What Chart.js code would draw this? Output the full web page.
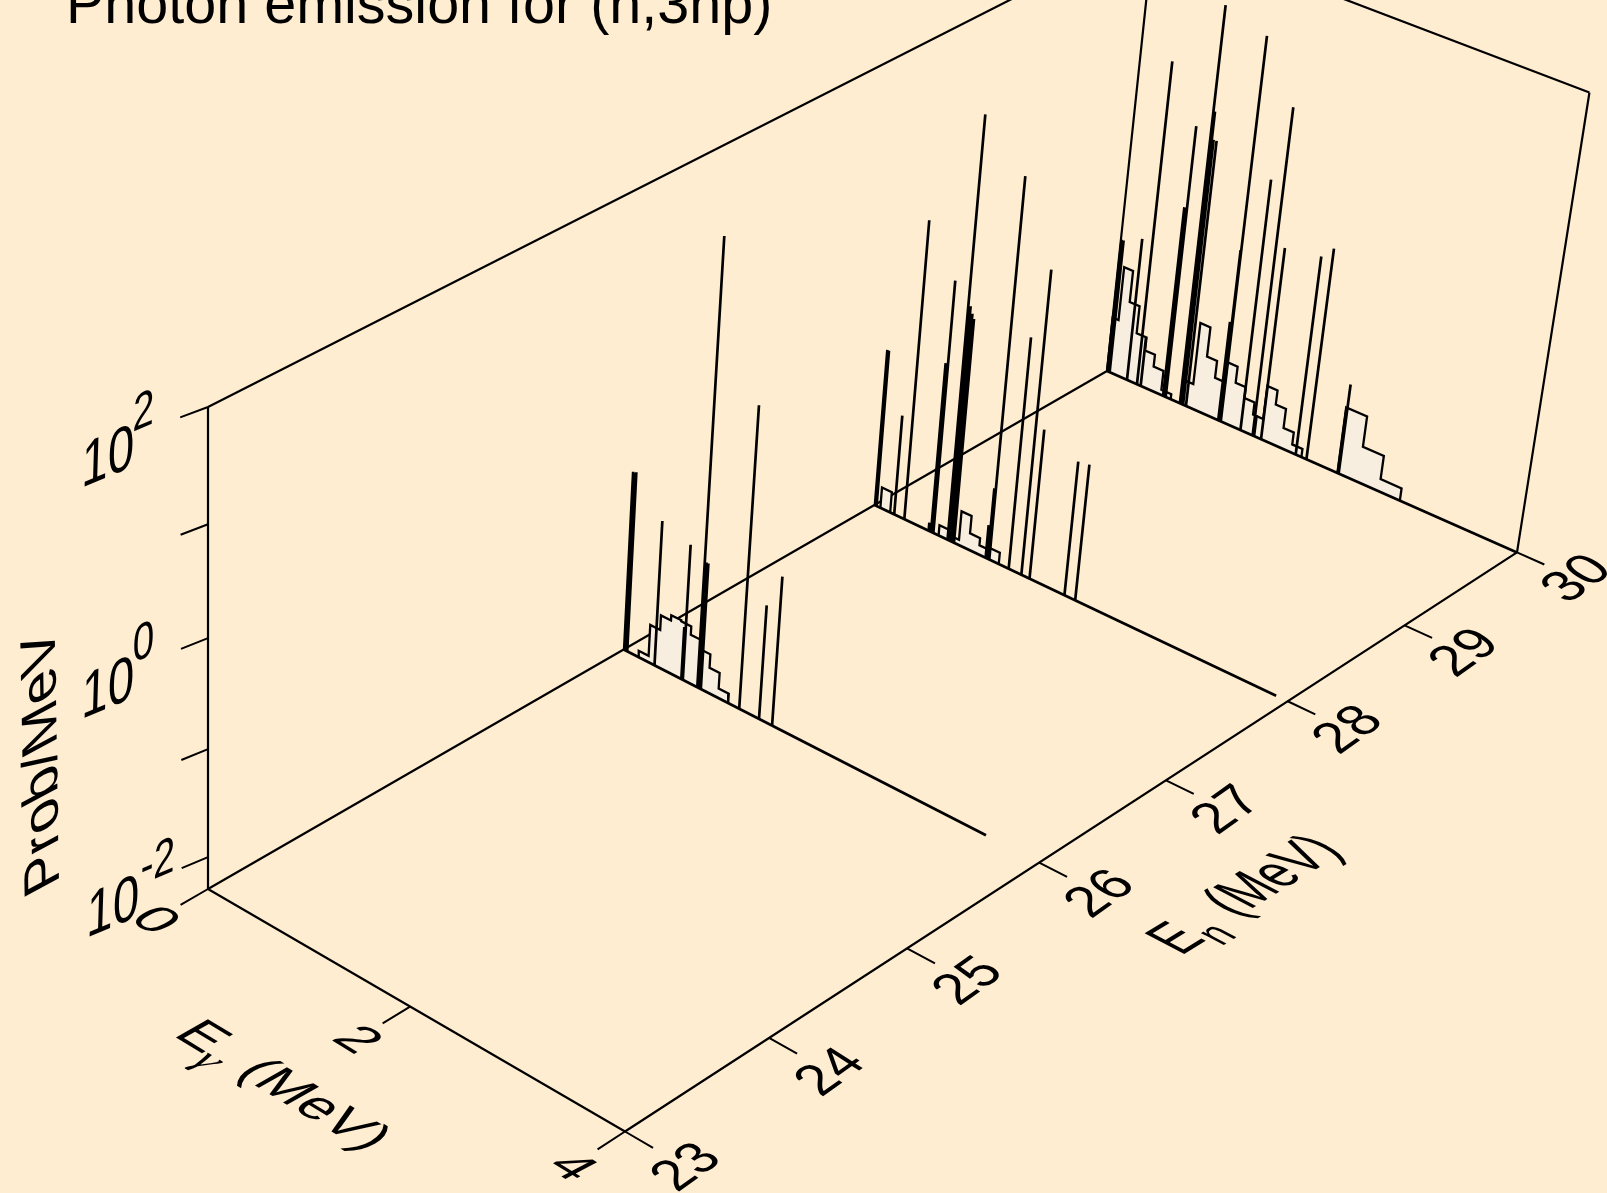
<!DOCTYPE html>
<html><head><meta charset="utf-8"><title>Photon emission for (n,3np)</title>
<style>html,body{margin:0;padding:0;background:#ffedd2;overflow:hidden}canvas{display:block}</style>
<script src="https://cdn.jsdelivr.net/npm/chart.js@4"></script></head><body>
<canvas id="c" width="1607" height="1193" style="width:1607px;height:1193px"></canvas>
<script>
// ---- data ----
const titleText = "Photon emission for (n,3np)";
const enTicks = [23,24,25,26,27,28,29,30];
const egTicks = [0,2,4];
const logTicks = [-2,-1,0,1,2];
const logLabels = [-2,0,2];
const egRange = [0,4];
const enRange = [23,30];
const logRange = [-2.301,2];

const series3En = 30, series2En = 28, series1En = 26;
const series3End = 4.0, series2End = 3.894, series1End = 3.513;

const lines3E = [0.007,0.027,0.205,0.307,0.345,0.573,0.599,0.743,0.750,0.758,0.775,0.804,1.128,1.147,1.153,1.349,1.470,1.484,1.553,1.894,1.999,2.304,2.312];
const lines3P = [-0.98,-0.98,-0.89,0.86,-1.81,-0.43,0.36,1.55,0.56,0.56,0.30,0.30,-1.32,-0.61,1.42,0.15,0.88,-2.09,-0.42,-0.36,-0.24,-1.65,-1.42];
const lines2E = [0.005,0.021,0.201,0.304,0.550,0.574,0.597,0.740,0.762,0.785,0.804,1.120,1.141,1.156,1.348,1.473,1.553,1.894,1.998];
const lines2P = [-0.78,-0.78,-1.33,0.57,-2.22,-0.66,0.13,1.71,-0.04,-0.10,-0.14,-1.98,-1.61,1.32,-0.08,0.60,-0.86,-1.01,-0.99];
const lines1E = [0.005,0.022,0.036,0.313,0.583,0.598,0.743,0.760,0.778,1.159,1.354,1.482];
const lines1P = [-0.60,-0.60,-0.59,-0.92,-1.80,-1.01,1.85,-1.10,-1.10,0.53,-1.22,-0.89];

const hist3aEdges = [0.0,0.06,0.15,0.25,0.35,0.45,0.55,0.65];
const hist3aVals  = [-1.76,-1.23,-1.54,-1.81,-1.94,-2.06,-2.25];
const hist3bEdges = [0.75,0.85,0.95,1.05,1.15,1.25,1.35,1.45,1.55,1.65,1.75,1.85,1.95];
const hist3bVals  = [-2.06,-1.45,-1.74,-1.91,-1.71,-1.87,-1.98,-2.10,-1.77,-1.91,-2.10,-2.22];
const hist3cEdges = [2.3,2.5,2.7,2.9];
const hist3cVals  = [-1.65,-1.95,-2.18];
const hist2aEdges = [0.06,0.16];
const hist2aVals  = [-2.10];
const hist2bEdges = [0.65,0.75,0.85,0.95,1.05,1.15,1.25];
const hist2bVals  = [-2.20,-2.25,-1.97,-2.14,-2.21,-2.19];
const hist1Edges  = [0.15,0.25,0.35,0.45,0.55,0.65,0.75,0.85,0.95,1.05];
const hist1Vals   = [-2.24,-1.94,-1.80,-1.75,-1.76,-1.84,-1.93,-2.06,-2.21];

// ---- perspective projection of the box on the page ----
const cO=[208,889], cB=[625,1131.5], cD=[1107,371], cA=[208,407];
const g1=-0.05957, g2=0.14667, g3=-0.057;
const a1=[cB[0]*(1+g1)-cO[0],cB[1]*(1+g1)-cO[1]];
const a2=[cD[0]*(1+g2)-cO[0],cD[1]*(1+g2)-cO[1]];
const a3=[cA[0]*(1+g3)-cO[0],cA[1]*(1+g3)-cO[1]];
function projUVW(u,v,w){
  const d=1+g1*u+g2*v+g3*w;
  return {x:(cO[0]+a1[0]*u+a2[0]*v+a3[0]*w)/d, y:(cO[1]+a1[1]*u+a2[1]*v+a3[1]*w)/d};
}
const U=e=>(e-egRange[0])/(egRange[1]-egRange[0]);
const V=e=>(e-enRange[0])/(enRange[1]-enRange[0]);
const W=l=>(l-logRange[0])/(logRange[1]-logRange[0]);
const proj=(eg,en,lg)=>projUVW(U(eg),V(en),W(lg));
const GAP={x:NaN,y:NaN};
const zMin=logRange[0], zMax=logRange[1];

function spikes(es,ps,en){const o=[];es.forEach((e,i)=>{o.push(proj(e,en,zMin),proj(e,en,ps[i]),GAP);});return o;}
function hump(edges,vals,en){const o=[proj(edges[0],en,zMin)];vals.forEach((p,i)=>{o.push(proj(edges[i],en,p),proj(edges[i+1],en,p));});o.push(proj(edges[edges.length-1],en,zMin));return o;}
function seg(list){const o=[];list.forEach(s=>{o.push(s[0],s[1],GAP);});return o;}

const frameSegs=seg([
 [proj(0,23,zMin),proj(4,23,zMin)],
 [proj(4,23,zMin),proj(4,30,zMin)],
 [proj(4,30,zMin),proj(4,30,zMax)],
 [proj(4,30,zMax),proj(0,30,zMax)],
 [proj(0,30,zMax),proj(0,23,zMax)],
 [proj(0,23,zMax),proj(0,23,zMin)],
 [proj(0,23,zMin),proj(0,30,zMin)],
 [proj(0,30,zMin),proj(0,30,zMax)]
]);
const tickSegs=seg([
 ...enTicks.map(t=>[projUVW(1,V(t),0),projUVW(1.063,V(t),0)]),
 ...egTicks.map(t=>[projUVW(U(t),0,0),projUVW(U(t),-0.0265,0)]),
 ...logTicks.map(t=>[projUVW(0,0,W(t)),projUVW(-0.0088,-0.022,W(t))])
]);
const lineDs=(data,w,order,extra)=>Object.assign({data,showLine:true,borderColor:'#000',backgroundColor:'#000',borderWidth:w,pointRadius:0,pointHoverRadius:0,spanGaps:false,tension:0,fill:false,order,borderJoinStyle:'miter'},extra||{});
const histDs=(data,order)=>lineDs(data,2.3,order,{fill:'shape',backgroundColor:'#f8eee0'});

const datasets=[
 lineDs(frameSegs,2.2,100),
 lineDs(tickSegs,2,99),
 histDs(hump(hist3aEdges,hist3aVals,series3En),90),
 histDs(hump(hist3bEdges,hist3bVals,series3En),90),
 histDs(hump(hist3cEdges,hist3cVals,series3En),90),
 lineDs(spikes(lines3E,lines3P,series3En),2.7,80),
 lineDs([proj(0,series3En,zMin),proj(series3End,series3En,zMin)],2.7,79),
 histDs(hump(hist2aEdges,hist2aVals,series2En),70),
 histDs(hump(hist2bEdges,hist2bVals,series2En),70),
 lineDs(spikes(lines2E,lines2P,series2En),2.7,60),
 lineDs([proj(0,series2En,zMin),proj(series2End,series2En,zMin)],2.7,59),
 histDs(hump(hist1Edges,hist1Vals,series1En),50),
 lineDs(spikes(lines1E,lines1P,series1En),2.7,40),
 lineDs([proj(0,series1En,zMin),proj(series1End,series1En,zMin)],2.7,39)
];

const FONT='"Liberation Sans",Arial,sans-serif';
function put(ctx,m,x,y,fn){ctx.save();ctx.transform(m[0],m[1],m[2],m[3],x,y);fn();ctx.restore();}
const textPlugin={id:'text3d',
 beforeDraw(ch){const c=ch.ctx;c.save();c.fillStyle='#ffedd2';c.fillRect(0,0,ch.width,ch.height);c.restore();},
 afterDraw(ch){
  const c=ch.ctx;c.save();c.fillStyle='#000';c.textBaseline='alphabetic';c.textAlign='left';
  c.font='57.5px '+FONT;c.fillText(titleText,66,23);
  // height axis
  const mz=[0.74,-0.31,-0.03,1];
  logLabels.forEach(l=>{const p=projUVW(0,0,W(l));
    const neg=l<0;
    put(c,mz,p.x-(neg?122:127),p.y+81,()=>{c.font='64px '+FONT;c.fillText('10',0,0);c.font='52px '+FONT;c.fillText(String(l),neg?72:68,neg?-31:-35);});});
  put(c,[-0.015,-0.91,0.778,-0.42],59,883,()=>{c.font='64px '+FONT;c.fillText('Prob/MeV',0,0);});
  // E gamma axis
  c.textAlign='center';c.textBaseline='middle';
  const mg=[0.75,0.46,-0.72,0.38];
  egTicks.forEach(t=>{const p=projUVW(U(t),-0.055,0);put(c,mg,p.x+3,p.y-1,()=>{c.font='64px '+FONT;c.fillText(String(t),0,0);});});
  const me=[0.75,0.455,-0.727,0.414];
  c.textAlign='left';c.textBaseline='alphabetic';
  put(c,me,172,1035,()=>{c.font='64px '+FONT;c.fillText('E',0,0);
    c.font='italic 52px "Liberation Serif",serif';c.fillText('\u03b3',42,19);
    c.font='64px '+FONT;c.fillText('(MeV)',84,0);});
  // E n axis
  c.textAlign='center';c.textBaseline='middle';
  const mn=[0.66,-0.47,0.73,0.47];
  enTicks.forEach(t=>{const p=projUVW(1.14,V(t),0);put(c,mn,p.x,p.y,()=>{c.font='64px '+FONT;c.fillText(String(t),0,0);});});
  c.textAlign='left';c.textBaseline='alphabetic';
  put(c,[0.62,-0.38,0.90,0.47],1181,956,()=>{c.font='64px '+FONT;c.fillText('E',0,0);
    c.font='48px '+FONT;c.fillText('n',44,15);
    c.font='64px '+FONT;c.fillText('(MeV)',95,-4);});
  c.restore();
 }};

new Chart(document.getElementById('c').getContext('2d'),{
 type:'scatter',
 data:{datasets},
 options:{responsive:false,devicePixelRatio:1,animation:false,
  layout:{padding:0},
  parsing:true,
  scales:{x:{type:'linear',min:0,max:1607,display:false},y:{type:'linear',min:0,max:1193,reverse:true,display:false}},
  plugins:{legend:{display:false},tooltip:{enabled:false},title:{display:false}},
  events:[]
 },
 plugins:[textPlugin]
});
</script></body></html>
